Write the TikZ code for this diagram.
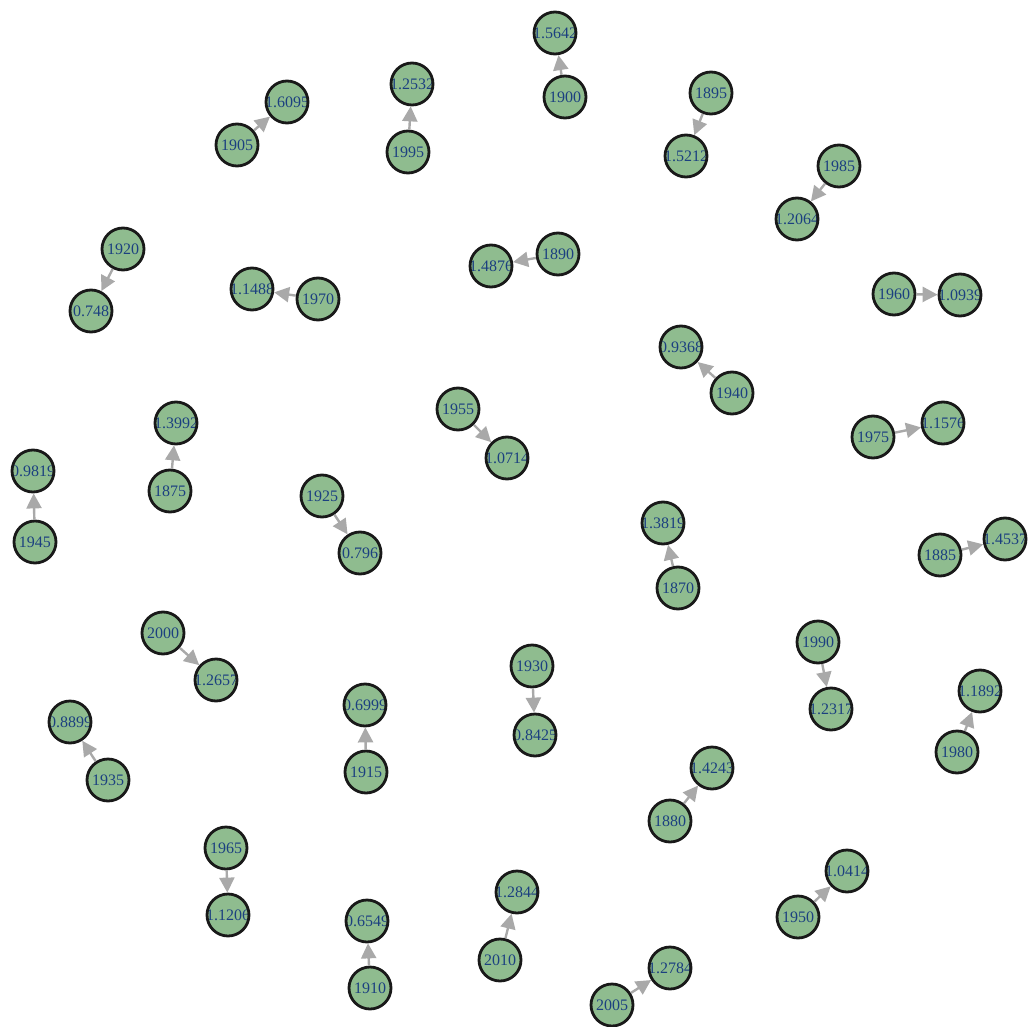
\documentclass[tikz,border=0pt]{standalone}
\usepackage{fontspec}
\setmainfont{Liberation Serif}
\usetikzlibrary{arrows.meta}
\definecolor{nodefill}{RGB}{143,188,143}
\definecolor{lblblue}{RGB}{28,64,128}
\definecolor{edgegray}{RGB}{169,169,169}
\tikzset{
  vnode/.style={circle, draw=black!90, line width=2.8pt, fill=nodefill,
    minimum size=42pt, inner sep=0pt,
    path picture={\node[text=lblblue, font=\fontsize{16pt}{16pt}\selectfont, inner sep=0pt]
      at (path picture bounding box.center) {#1};}},
  edge/.style={draw=edgegray, line width=2.4pt, -{Triangle[length=15pt,width=15pt]}, shorten >=0pt}
}
\begin{document}
\begin{tikzpicture}[x=1pt,y=-1pt]
\useasboundingbox (0,0) rectangle (1033,1027);
% pairs: year -> value
\node[vnode={1900}] (y1900) at (565,97) {};
\node[vnode={1.5642}] (v1900) at (555,33) {};
\node[vnode={1995}] (y1995) at (408,152) {};
\node[vnode={1.2532}] (v1995) at (412,84) {};
\node[vnode={1905}] (y1905) at (237,145) {};
\node[vnode={1.6095}] (v1905) at (287,102) {};
\node[vnode={1895}] (y1895) at (711,93) {};
\node[vnode={1.5212}] (v1895) at (686,156) {};
\node[vnode={1985}] (y1985) at (839,166) {};
\node[vnode={1.2064}] (v1985) at (797,219) {};
\node[vnode={1920}] (y1920) at (123,249) {};
\node[vnode={0.748}] (v1920) at (91,311) {};
\node[vnode={1970}] (y1970) at (318,299) {};
\node[vnode={1.1488}] (v1970) at (252,289) {};
\node[vnode={1890}] (y1890) at (558,254) {};
\node[vnode={1.4876}] (v1890) at (491,266) {};
\node[vnode={1960}] (y1960) at (894,294) {};
\node[vnode={1.0939}] (v1960) at (960,295) {};
\node[vnode={1940}] (y1940) at (732,393) {};
\node[vnode={0.9368}] (v1940) at (681,347) {};
\node[vnode={1955}] (y1955) at (458,409) {};
\node[vnode={1.0714}] (v1955) at (507,458) {};
\node[vnode={1975}] (y1975) at (873,437) {};
\node[vnode={1.1576}] (v1975) at (943,423) {};
\node[vnode={1875}] (y1875) at (170,491) {};
\node[vnode={1.3992}] (v1875) at (176,423) {};
\node[vnode={1945}] (y1945) at (35,542) {};
\node[vnode={0.9819}] (v1945) at (33,471) {};
\node[vnode={1925}] (y1925) at (322,496) {};
\node[vnode={0.796}] (v1925) at (360,553) {};
\node[vnode={1870}] (y1870) at (678,588) {};
\node[vnode={1.3819}] (v1870) at (663,523) {};
\node[vnode={1885}] (y1885) at (940,555) {};
\node[vnode={1.4537}] (v1885) at (1005,539) {};
\node[vnode={2000}] (y2000) at (163,633) {};
\node[vnode={1.2657}] (v2000) at (216,680) {};
\node[vnode={1930}] (y1930) at (532,666) {};
\node[vnode={0.8425}] (v1930) at (535,735) {};
\node[vnode={1990}] (y1990) at (818,642) {};
\node[vnode={1.2317}] (v1990) at (831,709) {};
\node[vnode={1935}] (y1935) at (108,780) {};
\node[vnode={0.8899}] (v1935) at (70,722) {};
\node[vnode={1915}] (y1915) at (366,772) {};
\node[vnode={0.6999}] (v1915) at (365,705) {};
\node[vnode={1980}] (y1980) at (957,752) {};
\node[vnode={1.1892}] (v1980) at (980,691) {};
\node[vnode={1880}] (y1880) at (670,821) {};
\node[vnode={1.4243}] (v1880) at (712,768) {};
\node[vnode={1965}] (y1965) at (226,848) {};
\node[vnode={1.1206}] (v1965) at (228,915) {};
\node[vnode={1950}] (y1950) at (798,917) {};
\node[vnode={1.0414}] (v1950) at (847,871) {};
\node[vnode={1910}] (y1910) at (370,988) {};
\node[vnode={0.6549}] (v1910) at (367,921) {};
\node[vnode={2010}] (y2010) at (500,960) {};
\node[vnode={1.2844}] (v2010) at (517,892) {};
\node[vnode={2005}] (y2005) at (612,1005) {};
\node[vnode={1.2784}] (v2005) at (670,968) {};
% edges
\foreach \yr in {1870,1875,1880,1885,1890,1895,1900,1905,1910,1915,1920,1925,1930,1935,1940,1945,1950,1955,1960,1965,1970,1975,1980,1985,1990,1995,2000,2005,2010}
  \draw[edge] (y\yr) -- (v\yr);
\end{tikzpicture}
\end{document}
